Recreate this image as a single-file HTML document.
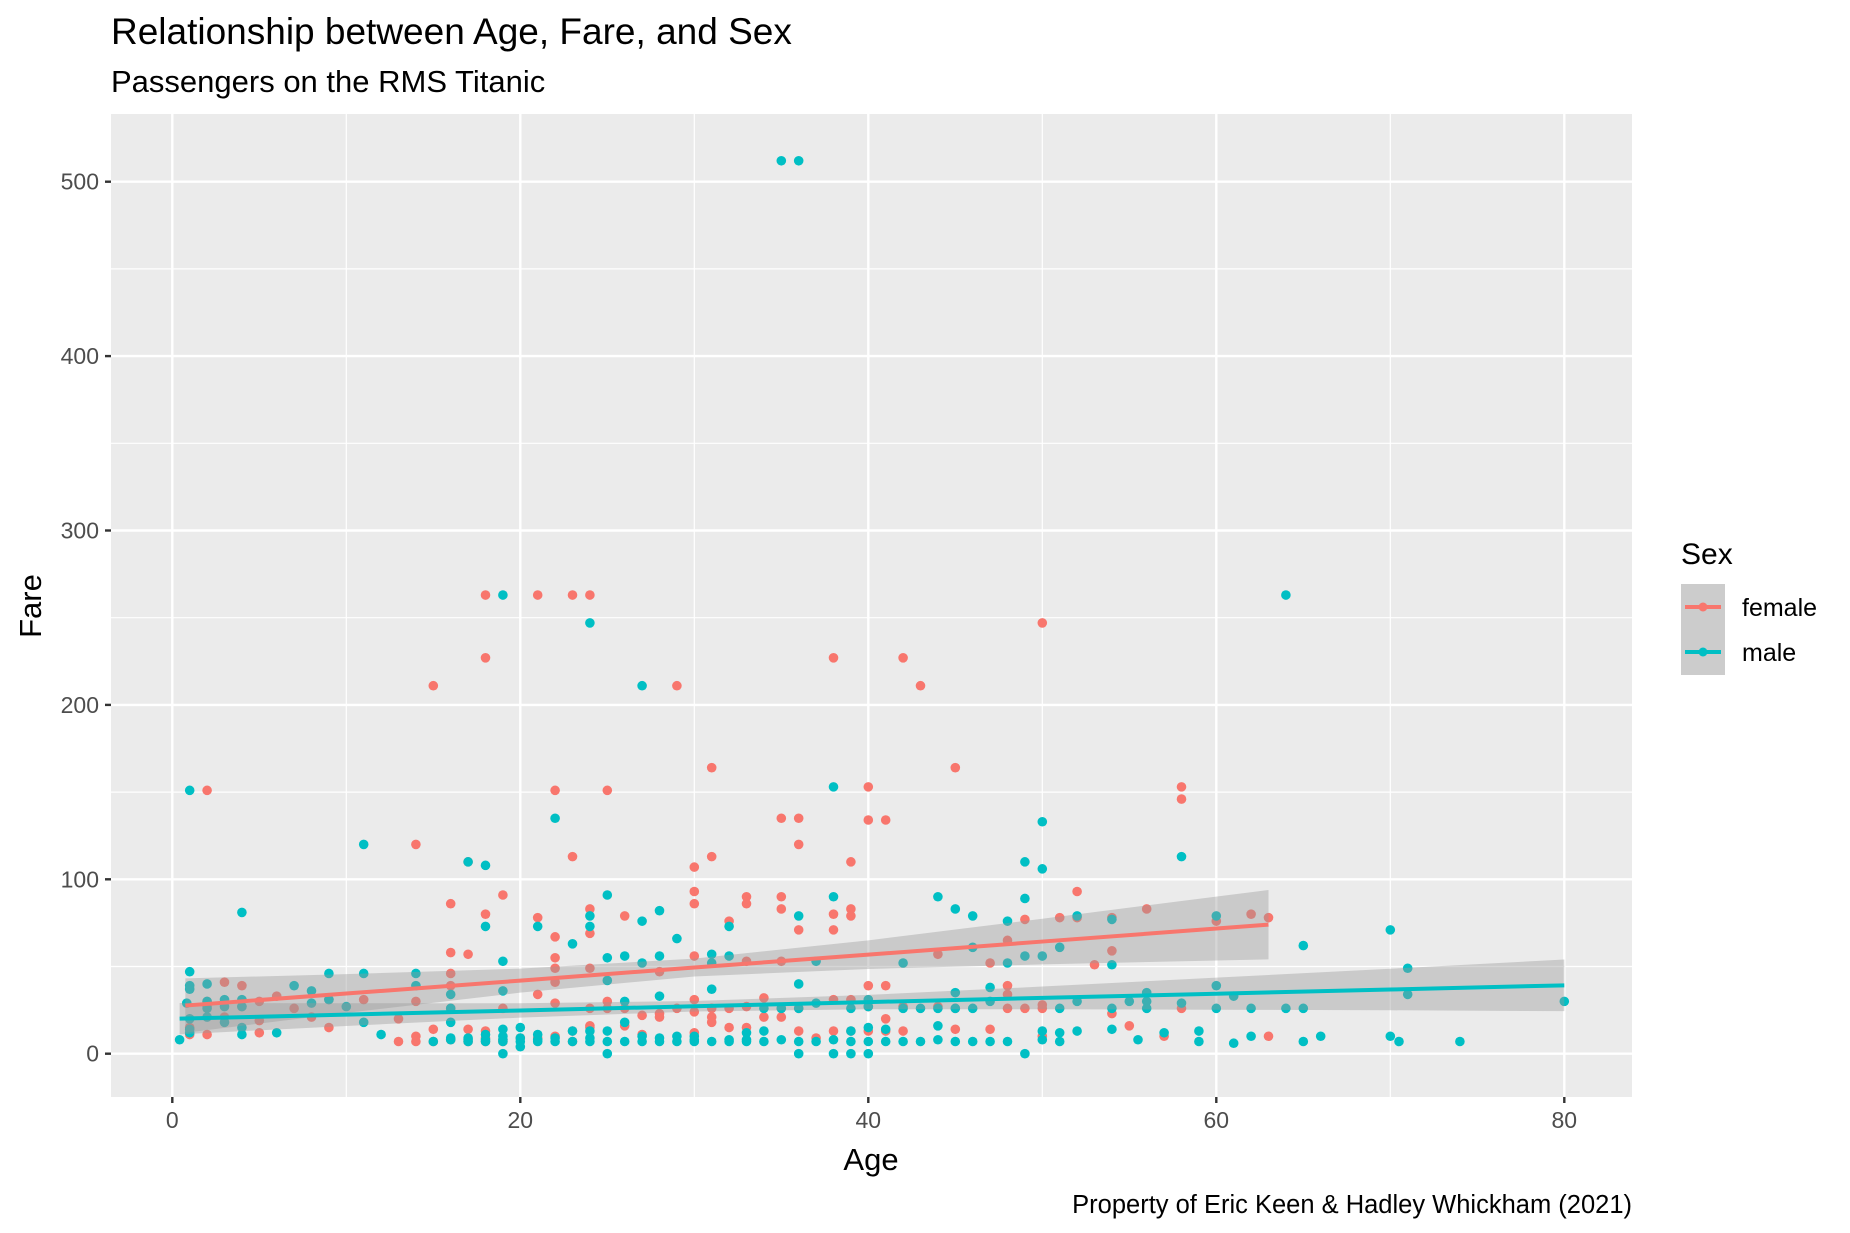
<!DOCTYPE html>
<html><head><meta charset="utf-8"><style>
body{margin:0;background:#fff;}
svg{display:block;font-family:"Liberation Sans",sans-serif;}
</style></head><body>
<svg id="chart" width="1850" height="1233" viewBox="0 0 1850 1233">
<text x="111" y="44" font-size="37" fill="#000">Relationship between Age, Fare, and Sex</text>
<text x="111" y="92" font-size="31" fill="#000">Passengers on the RMS Titanic</text>
<rect x="111" y="114" width="1521" height="983" fill="#EBEBEB"/>
<g id="grid"></g>
<g id="pts"></g>
<g id="fits"></g>
<g id="axes"></g>
<text x="30" y="606" font-size="31" text-anchor="middle" transform="rotate(-90 30 606)" dy="11">Fare</text>
<text x="871" y="1170" font-size="31" text-anchor="middle">Age</text>
<text x="1632" y="1213" font-size="25.5" text-anchor="end">Property of Eric Keen &amp; Hadley Whickham (2021)</text>
<g>
<text x="1681" y="564" font-size="30">Sex</text>
<rect x="1681" y="584" width="44" height="91" fill="#CCCCCC"/>
<g>
<line x1="1685" x2="1721" y1="607" y2="607" stroke="#F8766D" stroke-width="4"/>
<circle cx="1703" cy="607" r="4.5" fill="#F8766D"/>
<text x="1742" y="616" font-size="25">female</text></g>
<g>
<line x1="1685" x2="1721" y1="652" y2="652" stroke="#00BFC4" stroke-width="4"/>
<circle cx="1703" cy="652" r="4.5" fill="#00BFC4"/>
<text x="1742" y="661" font-size="25">male</text></g>
</g>
</svg>
<script>
const xTicks=[0,20,40,60,80];
const yTicks=[0,100,200,300,400,500];
const femaleAge=[2,14,15,16,16,17,17,18,18,18,19,21,21,22,22,22,23,23,24,24,24,24,25,26,29,30,30,30,31,31,32,33,33,35,35,35,35,36,36,36,38,38,38,39,39,39,40,40,40,41,41,42,43,44,45,47,48,48,50,49,51,52,52,53,54,54,56,58,58,60,62,63,63,57,55,54,58,2,1,1,2,2,3,3,4,4,5,5,5,6,7,8,9,9,11,13,13,14,14,14,15,15,16,16,16,16,17,17,18,18,18,19,19,19,20,21,21,22,22,22,22,23,23,24,24,24,25,25,26,26,27,27,28,28,28,29,30,30,30,30,31,31,31,32,32,33,33,33,34,34,35,35,36,36,37,38,38,39,39,40,40,41,41,42,42,44,45,45,47,48,48,49,50,50,50];
const femaleFare=[151,120,211,86,58,57,110,263,227,80,91,263,78,151,67,55,263,113,263,83,69,49,151,79,211,107,93,86,164,113,76,90,86,135,90,83,53,135,120,71,227,80,71,110,83,79,153,134,39,134,39,227,211,57,164,52,65,39,247,77,78,93,78,51,78,59,83,153,146,76,80,78,10,10,16,23,26,11,11,15,30,27,41,21,39,27,30,12,19,33,26,21,15,31,31,20,7,7,10,30,14,7,46,39,26,8,14,7,9,13,7,26,7,8,9,9,34,10,41,49,29,7,13,15,16,26,26,30,16,26,11,22,21,47,23,26,12,31,56,24,21,18,26,15,26,27,53,15,32,21,21,26,13,26,9,31,13,31,13,13,27,20,13,13,27,27,14,26,14,26,34,26,10,26,28];
const maleAge=[1,0.42,0.83,1,1,1,1,1,1,2,2,2,2,3,3,3,4,4,4,4,4,6,7,8,8,9,9,10,11,11,11,12,14,14,15,16,16,16,16,16,17,17,17,17,18,18,18,18,18,19,19,19,19,19,19,19,19,20,20,20,20,21,21,21,21,22,22,22,23,23,23,24,24,24,24,24,24,25,25,25,25,25,25,26,26,26,26,27,27,27,27,27,28,28,28,28,28,29,29,29,30,30,30,31,31,31,31,32,32,32,32,33,33,33,34,34,34,35,35,35,36,36,36,36,36,36,37,37,37,38,38,38,38,39,39,39,39,40,40,40,40,40,41,41,42,42,42,43,43,44,44,44,44,45,45,45,45,46,46,46,46,47,47,47,48,48,48,49,49,49,49,50,50,50,50,50,51,51,51,51,52,52,52,54,54,54,54,55,55.5,56,56,56,57,58,58,59,59,60,60,60,61,61,62,62,64,64,65,65,65,66,70,70,70.5,71,71,74,80];
const maleFare=[151,8,29,47,39,37,20,14,12,40,30,26,21,31,27,18,81,31,27,15,11,12,39,36,29,46,31,27,120,46,18,11,46,39,7,34,26,18,9,8,110,7,8,9,108,73,8,11,7,263,53,36,14,8,0,10,7,9,7,4,15,73,7,8,11,135,9,7,63,13,7,247,79,73,7,9,13,91,55,42,7,0,13,56,7,18,30,211,76,52,7,10,82,56,7,9,33,66,7,10,7,8,10,57,52,37,7,73,56,7,8,7,8,12,7,13,26,512,26,8,512,79,40,26,0,7,53,29,7,153,90,8,0,7,0,26,13,31,27,7,0,15,7,14,52,26,7,26,7,90,16,26,8,83,35,26,7,79,61,26,7,38,30,7,76,52,7,110,89,56,0,133,106,56,13,8,61,26,12,7,79,30,13,77,51,26,14,30,8,35,30,26,12,113,29,13,7,79,39,26,33,6,26,10,263,26,62,26,7,10,71,10,7,49,34,7,30];

const femaleFitAge=[0.75,10,20,30,40,50,63];
const femaleFitFare=[27.6,34.5,41.9,49.4,56.8,64.3,74.0];
const femaleFitHalf=[15.6,11.1,6.9,5.1,8.2,13.1,19.9];
const maleFitAge=[0.42,10,20,30,40,50,60,70,80];
const maleFitFare=[20.1,22.4,24.8,27.2,29.6,32,34.4,36.8,39.2];
const maleFitHalf=[9.0,6.5,4.1,3,4.1,6.5,9.2,11.9,14.8];

const X0=172.3, PXX=17.4, Y0=1053.7, PXY=1.744;
const sx=v=>X0+v*PXX, sy=v=>Y0-v*PXY;
const NS='http://www.w3.org/2000/svg';
function mk(tag,attrs,parent){const e=document.createElementNS(NS,tag);for(const k in attrs)e.setAttribute(k,attrs[k]);parent.appendChild(e);return e;}
const grid=document.getElementById('grid'), axes=document.getElementById('axes');
for(let i=0;i<xTicks.length-1;i++){const v=(xTicks[i]+xTicks[i+1])/2;const l=mk('line',{x1:sx(v),x2:sx(v),y1:114,y2:1097,stroke:'#fff','stroke-width':1.2},grid);

}
for(let i=0;i<yTicks.length;i++){const v=yTicks[i]-50;const l=mk('line',{x1:111,x2:1632,y1:sy(v),y2:sy(v),stroke:'#fff','stroke-width':1.2},grid);

}
xTicks.forEach(v=>{const l=mk('line',{x1:sx(v),x2:sx(v),y1:114,y2:1097,stroke:'#fff','stroke-width':2.4},grid);


const t=mk('line',{x1:sx(v),x2:sx(v),y1:1097,y2:1103,stroke:'#333','stroke-width':2.4},axes);


const tx=mk('text',{x:sx(v),y:1128,'font-size':23,fill:'#4D4D4D','text-anchor':'middle'},axes);tx.textContent=v;

});
yTicks.forEach(v=>{const l=mk('line',{x1:111,x2:1632,y1:sy(v),y2:sy(v),stroke:'#fff','stroke-width':2.4},grid);


const t=mk('line',{x1:105,x2:111,y1:sy(v),y2:sy(v),stroke:'#333','stroke-width':2.4},axes);


const tx=mk('text',{x:99,y:sy(v)+8,'font-size':23,fill:'#4D4D4D','text-anchor':'end'},axes);tx.textContent=v;

});

const pts=document.getElementById('pts');
function drawPts(ages,fares,col,name){ages.forEach((a,i)=>{const c=mk('circle',{cx:sx(a),cy:sy(fares[i]),r:4.8,fill:col},pts);

});}
drawPts(femaleAge,femaleFare,'#F8766D','point-female');
drawPts(maleAge,maleFare,'#00BFC4','point-male');

const fits=document.getElementById('fits');
function band(ages,fares,half,name){
 const up=ages.map((a,i)=>sx(a)+','+sy(fares[i]+half[i]));
 const dn=ages.map((a,i)=>sx(a)+','+sy(fares[i]-half[i])).reverse();
 const r=mk('polygon',{points:up.concat(dn).join(' '),fill:'#999999','fill-opacity':0.4},fits);
 
 
}
band(femaleFitAge,femaleFitFare,femaleFitHalf,'female');
band(maleFitAge,maleFitFare,maleFitHalf,'male');
const l1=mk('polyline',{points:femaleFitAge.map((a,i)=>sx(a)+','+sy(femaleFitFare[i])).join(' '),fill:'none',stroke:'#F8766D','stroke-width':4},fits);


const l2=mk('polyline',{points:maleFitAge.map((a,i)=>sx(a)+','+sy(maleFitFare[i])).join(' '),fill:'none',stroke:'#00BFC4','stroke-width':4},fits);


</script>
</body></html>
